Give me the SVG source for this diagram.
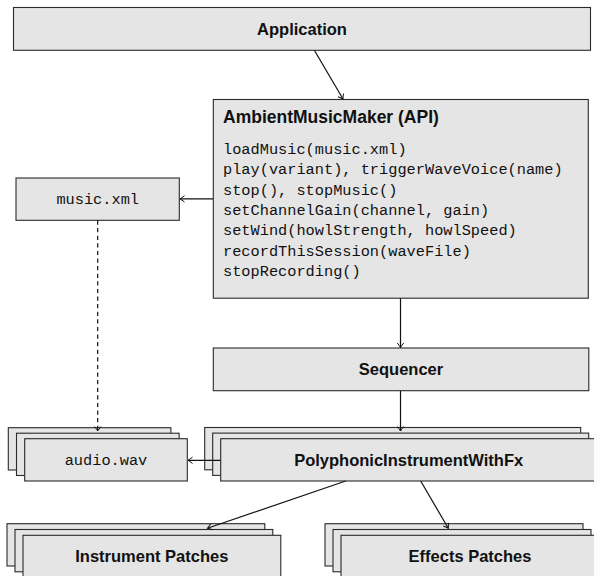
<svg xmlns="http://www.w3.org/2000/svg" width="594" height="576" viewBox="0 0 594 576">
<style>
.box{fill:#e5e5e5;stroke:#2a2a2a;stroke-width:1.1}
.lbl{font-family:"Liberation Sans",Arial,sans-serif;font-weight:bold;font-size:16.5px;fill:#111;text-anchor:middle}
.mono{font-family:"Liberation Mono","Courier New",monospace;font-size:15.3px;fill:#111}
.edge{fill:none;stroke:#111;stroke-width:1.2}
.dash{stroke-dasharray:4.2,3.4}
</style>
<defs>
<marker id="arr" viewBox="-6 -4 7 8" markerWidth="7" markerHeight="8" refX="0" refY="0" orient="auto" markerUnits="userSpaceOnUse">
<path d="M-4.5,-3.2 Q-1.5,-0.8 0,0 Q-1.5,0.8 -4.5,3.2" fill="none" stroke="#111" stroke-width="1"/>
</marker>
</defs>
<rect width="594" height="576" fill="#fff"/>
<g id="application">
<rect class="box" x="13.5" y="7.5" width="577" height="42.8"/>
<text class="lbl" x="302" y="34.5">Application</text>
</g>
<g id="api">
<rect class="box" x="213.3" y="99.5" width="375" height="198.7"/>
<text class="lbl" x="223" y="123.3" style="text-anchor:start;font-size:17.5px">AmbientMusicMaker (API)</text>
<text class="mono" x="223" y="154">loadMusic(music.xml)</text>
<text class="mono" x="223" y="174.3">play(variant), triggerWaveVoice(name)</text>
<text class="mono" x="223" y="194.6">stop(), stopMusic()</text>
<text class="mono" x="223" y="214.9">setChannelGain(channel, gain)</text>
<text class="mono" x="223" y="235.2">setWind(howlStrength, howlSpeed)</text>
<text class="mono" x="223" y="255.5">recordThisSession(waveFile)</text>
<text class="mono" x="223" y="275.8">stopRecording()</text>
</g>
<g id="music-xml">
<rect class="box" x="16" y="178" width="163.3" height="42.3"/>
<text class="mono" x="97.7" y="204" text-anchor="middle">music.xml</text>
</g>
<g id="sequencer">
<rect class="box" x="213.3" y="348" width="375.5" height="42.7"/>
<text class="lbl" x="401" y="375.3">Sequencer</text>
</g>
<g id="audio-wav">
<rect class="box" x="8.3" y="427.7" width="162.6" height="42.3"/>
<rect class="box" x="16.5" y="433.2" width="162.6" height="42.3"/>
<rect class="box" x="24.7" y="438.7" width="162.6" height="42.3"/>
<text class="mono" x="106" y="465.3" text-anchor="middle">audio.wav</text>
</g>
<g id="polyphonic">
<rect class="box" x="204.7" y="427.5" width="376" height="42.3"/>
<rect class="box" x="212.7" y="433.1" width="376" height="42.3"/>
<rect class="box" x="220.7" y="438.7" width="376" height="42.3"/>
<text class="lbl" x="408.7" y="465.5">PolyphonicInstrumentWithFx</text>
</g>
<g id="instrument-patches">
<rect class="box" x="7" y="523.7" width="257.8" height="42.3"/>
<rect class="box" x="15" y="529.5" width="257.8" height="42.3"/>
<rect class="box" x="23" y="535.3" width="257.8" height="42.3"/>
<text class="lbl" x="151.8" y="562">Instrument Patches</text>
</g>
<g id="effects-patches">
<rect class="box" x="325" y="523.7" width="258" height="42.3"/>
<rect class="box" x="333" y="529.5" width="258" height="42.3"/>
<rect class="box" x="341" y="535.3" width="258" height="42.3"/>
<text class="lbl" x="470" y="562">Effects Patches</text>
</g>
<g id="connectors">
<line class="edge" x1="314.5" y1="50.5" x2="343" y2="99" marker-end="url(#arr)"/>
<line class="edge" x1="213" y1="198.8" x2="180" y2="198.8" marker-end="url(#arr)"/>
<line class="edge" x1="400.5" y1="298.3" x2="400.5" y2="347.5" marker-end="url(#arr)"/>
<line class="edge" x1="400.5" y1="390.8" x2="400.5" y2="431" marker-end="url(#arr)"/>
<line class="edge dash" x1="97.7" y1="220.5" x2="97.7" y2="431" marker-end="url(#arr)"/>
<line class="edge" x1="220.5" y1="460.3" x2="188" y2="460.3" marker-end="url(#arr)"/>
<line class="edge" x1="345.7" y1="481" x2="207.5" y2="528.3" marker-end="url(#arr)"/>
<line class="edge" x1="420.7" y1="481" x2="448.3" y2="528.3" marker-end="url(#arr)"/>
</g>
</svg>
